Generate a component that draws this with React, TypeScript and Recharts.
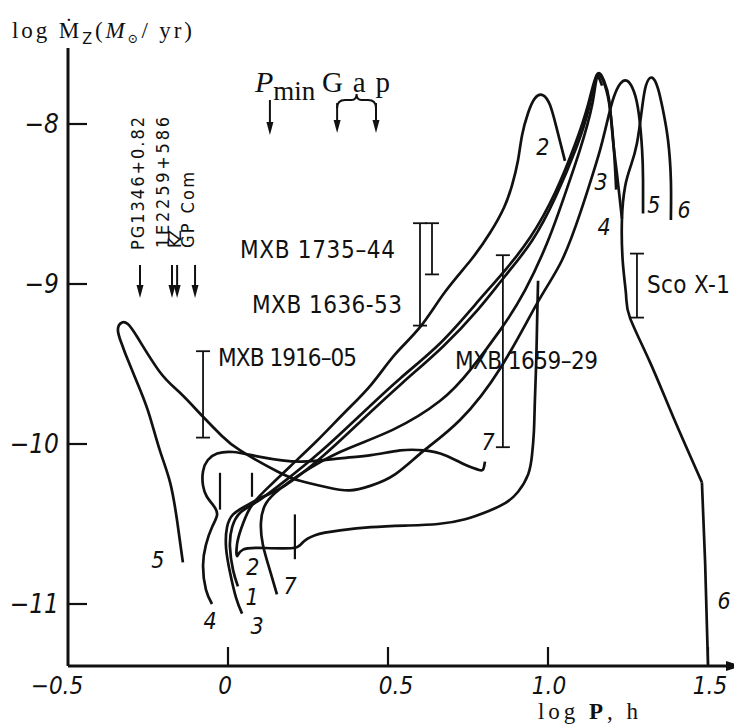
import React from 'react';
import { ComposedChart, Line, XAxis, YAxis, ReferenceLine, ReferenceDot } from 'recharts';

// evolutionary tracks, log P (h) against log Mdot_2 (Msun/yr)
const track1LogP = [0.031, 0.016, 0.006, 0.013, 0.038, 0.091, 0.172, 0.288, 0.413, 0.538, 0.663, 0.772, 0.859, 0.944, 1.022, 1.084, 1.125, 1.153, 1.175, 1.191, 1.203, 1.216, 1.231];
const track1LogM = [-10.89, -10.79, -10.64, -10.52, -10.43, -10.36, -10.24, -10.05, -9.82, -9.59, -9.37, -9.13, -8.93, -8.71, -8.43, -8.13, -7.88, -7.69, -7.73, -7.85, -8.1, -8.32, -8.59];

const track2LogP = [1.053, 1.025, 1.006, 0.984, 0.959, 0.938, 0.919, 0.906, 0.888, 0.863, 0.819, 0.759, 0.678, 0.6, 0.522, 0.447, 0.366, 0.278, 0.194, 0.116, 0.069, 0.041, 0.028, 0.028, 0.047, 0.116, 0.203, 0.231, 0.272, 0.35, 0.447, 0.553, 0.656, 0.741, 0.813, 0.866, 0.906, 0.938, 0.95, 0.956, 0.959, 0.963, 0.966, 0.969];
const track2LogM = [-8.23, -8.01, -7.88, -7.82, -7.84, -7.93, -8.07, -8.23, -8.38, -8.52, -8.68, -8.85, -9.05, -9.27, -9.44, -9.63, -9.8, -9.98, -10.14, -10.29, -10.4, -10.53, -10.63, -10.7, -10.66, -10.65, -10.65, -10.62, -10.57, -10.54, -10.52, -10.51, -10.5, -10.47, -10.42, -10.37, -10.3, -10.19, -10.07, -9.92, -9.73, -9.5, -9.23, -8.98];

const track3LogP = [0.044, 0.025, 0.006, -0.006, -0.003, 0.016, 0.053, 0.109, 0.178, 0.294, 0.419, 0.544, 0.672, 0.781, 0.866, 0.95, 1.025, 1.088, 1.128, 1.153, 1.178, 1.194, 1.206, 1.213];
const track3LogM = [-11.06, -10.96, -10.8, -10.65, -10.52, -10.44, -10.39, -10.33, -10.26, -10.08, -9.85, -9.62, -9.39, -9.16, -8.95, -8.73, -8.45, -8.15, -7.9, -7.7, -7.76, -7.91, -8.16, -8.41];

const track4LogP = [-0.05, -0.069, -0.078, -0.069, -0.05, -0.034, -0.047, -0.066, -0.078, -0.078, -0.063, -0.034, 0.016, 0.1, 0.225, 0.35, 0.447, 0.538, 0.613, 0.678, 0.741, 0.781, 0.797, 0.803];
const track4LogM = [-11.0, -10.91, -10.76, -10.63, -10.52, -10.44, -10.38, -10.33, -10.26, -10.17, -10.1, -10.06, -10.05, -10.08, -10.11, -10.09, -10.07, -10.04, -10.04, -10.07, -10.13, -10.16, -10.16, -10.11];

const track5LogP = [1.297, 1.297, 1.294, 1.284, 1.269, 1.247, 1.225, 1.206, 1.188, 1.163, 1.131, 1.1, 1.044, 0.969, 0.853, 0.725, 0.613, 0.522, 0.447, 0.38, 0.309, 0.225, 0.153, 0.038, -0.019, -0.078, -0.15, -0.213, -0.284, -0.313, -0.331, -0.344, -0.331, -0.316, -0.275, -0.244, -0.213, -0.181, -0.159, -0.141];
const track5LogM = [-8.56, -8.35, -8.16, -7.94, -7.8, -7.73, -7.75, -7.83, -7.96, -8.16, -8.37, -8.56, -8.85, -9.11, -9.52, -9.85, -10.04, -10.19, -10.26, -10.29, -10.27, -10.23, -10.17, -10.04, -9.95, -9.83, -9.68, -9.55, -9.33, -9.25, -9.24, -9.29, -9.38, -9.46, -9.66, -9.83, -10.04, -10.24, -10.48, -10.74];

const track6LogP = [1.384, 1.384, 1.375, 1.359, 1.344, 1.325, 1.306, 1.294, 1.278, 1.259, 1.241, 1.231, 1.234, 1.244, 1.256, 1.319, 1.391, 1.481, 1.491, 1.5];
const track6LogM = [-8.6, -8.35, -8.1, -7.91, -7.78, -7.71, -7.76, -7.9, -8.12, -8.26, -8.39, -8.6, -8.87, -9.07, -9.21, -9.49, -9.83, -10.24, -10.74, -11.38];

const track7LogP = [0.153, 0.131, 0.109, 0.103, 0.119, 0.163, 0.225, 0.35, 0.516, 0.663, 0.756, 0.85, 0.928, 1.0, 1.053, 1.1, 1.138, 1.153, 1.169];
const track7LogM = [-10.94, -10.79, -10.63, -10.49, -10.37, -10.28, -10.19, -10.05, -9.91, -9.73, -9.54, -9.29, -9.04, -8.73, -8.44, -8.16, -7.88, -7.71, -7.76];

// observed systems with a range of log Mdot
const systemNames = ['MXB 1735–44', 'MXB 1636-53', 'MXB 1659–29', 'MXB 1916–05', 'Sco X-1'];
const systemLogP = [0.6375, 0.6, 0.859, -0.078, 1.278];
const systemLow = [-8.94, -9.26, -10.02, -9.96, -9.21];
const systemHigh = [-8.62, -8.62, -8.82, -9.42, -8.81];

// ultra-short period binaries (arrows only)
const ultraNames = ['PG1346+0.82', '1E2259+586', 'KZ', 'GP Com'];
const ultraLogP = [-0.275, -0.175, -0.159, -0.103];

// P_min and period gap
const pminLogP = 0.131;
const gapLogP = [0.341, 0.4625];

// small period marks on the tracks
const markLogP = [-0.025, 0.075, 0.209];
const markTop = [-10.18, -10.18, -10.44];
const markBottom = [-10.41, -10.33, -10.72];

const xTicks = [-0.5, 0, 0.5, 1.0, 1.5];
const xTickText = ['−0.5', '0', '0.5', '1.0', '1.5'];
const yTicks = [-11, -10, -9, -8];
const yTickText = ['−11', '−10', '−9', '−8'];

const zip = (p: number[], m: number[]) => p.map((x, i) => ({ x, y: m[i] }));
const track6 = zip(track6LogP, track6LogM);

const tracks = [
  zip(track1LogP, track1LogM),
  zip(track2LogP, track2LogM),
  zip(track3LogP, track3LogM),
  zip(track4LogP, track4LogM),
  zip(track5LogP, track5LogM),
  zip(track7LogP, track7LogM),
  track6.slice(0, 18),
];

const Y_DOMAIN: [number, number] = [-11.3875, -7.525];
const INK = '#111';
const NARROW = "'Liberation Sans Narrow', 'DejaVu Sans Condensed', 'Liberation Sans', sans-serif";
const SERIF = "'Liberation Serif', 'DejaVu Serif', serif";

// label layout (data coordinates of anchors)
const trackLabels = [
  { t: '5', x: -0.219, y: -10.725 },
  { t: '4', x: -0.056, y: -11.106 },
  { t: '3', x: 0.091, y: -11.138 },
  { t: '1', x: 0.075, y: -10.956 },
  { t: '2', x: 0.078, y: -10.769 },
  { t: '7', x: 0.194, y: -10.888 },
  { t: '2', x: 0.984, y: -8.144 },
  { t: '3', x: 1.166, y: -8.363 },
  { t: '4', x: 1.175, y: -8.644 },
  { t: '5', x: 1.331, y: -8.506 },
  { t: '6', x: 1.425, y: -8.538 },
  { t: '7', x: 0.8125, y: -9.988 },
  { t: '6', x: 1.55, y: -10.981 },
];
const systemLabelAt = [
  { x: 0.0375, y: -8.8375, w: 155 },
  { x: 0.075, y: -9.181, w: 150 },
  { x: 0.709, y: -9.531, w: 143 },
  { x: -0.031, y: -9.5125, w: 139 },
  { x: 1.309, y: -9.056, w: 83 },
];
const ultraLabelAt = [
  { x: -0.2625, y: -8.7875, w: 133 },
  { x: -0.184, y: -8.775, w: 131 },
  { x: -0.147, y: -8.775, w: 18 },
  { x: -0.106, y: -8.775, w: 76 },
];

const center = (vb: any) => ({ cx: vb.x + vb.width / 2, cy: vb.y + vb.height / 2 });

const XTick = (props: any) => {
  const { x, y, payload } = props;
  const i = xTicks.indexOf(payload.value);
  const dx = [-11, -3, 8, 1, 2][i] ?? 0;
  return (
    <g>
      {payload.value > -0.5 && <line x1={x} x2={x} y1={y} y2={y - 19} stroke={INK} strokeWidth={2.2} />}
      <text x={x + dx} y={y + 28} textAnchor="middle" fontFamily={NARROW} fontStyle="italic" fontSize={24} fill={INK}>
        {xTickText[i]}
      </text>
    </g>
  );
};

const YTick = (props: any) => {
  const { x, y, payload } = props;
  const i = yTicks.indexOf(payload.value);
  return (
    <g>
      <line x1={x} x2={x + 19} y1={y} y2={y} stroke={INK} strokeWidth={2.2} />
      <text x={x - 9} y={y} textAnchor="end" dominantBaseline="central" fontFamily={NARROW} fontStyle="italic" fontSize={26} fill={INK}>
        {yTickText[i]}
      </text>
    </g>
  );
};

const YTitle = (props: any) => {
  const vb = props.viewBox;
  return (
    <text x={vb.x + 4} y={vb.y - 10} fontFamily={SERIF} fontSize={23} fill={INK} textLength={180} lengthAdjust="spacing">
      log Ṁ
      <tspan dy={6} fontSize={16} fontFamily={NARROW}>Z</tspan>
      <tspan dy={-6}>(</tspan>
      <tspan fontStyle="italic">M</tspan>
      <tspan dy={5} fontSize={13}>⊙</tspan>
      <tspan dy={-5}>/ yr)</tspan>
    </text>
  );
};

const XTitle = (props: any) => {
  const vb = props.viewBox;
  return (
    <text x={vb.x + 470} y={vb.y + 53} fontFamily={SERIF} fontSize={23} fill={INK} textLength={100} lengthAdjust="spacing">
      log <tspan fontWeight="bold">P</tspan>, h
    </text>
  );
};

const ErrorBarShape = (props: any) => {
  const { x1, y1, x2, y2 } = props;
  return (
    <g stroke={INK} strokeWidth={1.8}>
      <line x1={x1} y1={y1} x2={x2} y2={y2} />
      <line x1={x1 - 7} x2={x1 + 7} y1={y1} y2={y1} />
      <line x1={x2 - 7} x2={x2 + 7} y1={y2} y2={y2} />
    </g>
  );
};

const ArrowShape = (props: any) => {
  const { x1, y1, x2, y2 } = props;
  return (
    <g>
      <line x1={x1} y1={y1} x2={x2} y2={y2 - 8} stroke={INK} strokeWidth={2} />
      <path d={`M${x2 - 3.5},${y2 - 13} L${x2 + 3.5},${y2 - 13} L${x2},${y2} Z`} fill={INK} />
    </g>
  );
};

const BraceShape = (props: any) => {
  const { x1, y1, x2 } = props;
  const m = (x1 + x2) / 2;
  const d = `M${x1},${y1 + 5} Q${x1},${y1 - 3} ${x1 + 8},${y1 - 3} L${m - 5},${y1 - 3} Q${m},${y1 - 3} ${m},${y1 - 9} Q${m},${y1 - 3} ${m + 5},${y1 - 3} L${x2 - 8},${y1 - 3} Q${x2},${y1 - 3} ${x2},${y1 + 5}`;
  return <path d={d} fill="none" stroke={INK} strokeWidth={2} />;
};

const AxisArrow = (props: any) => {
  const { x2, y2 } = props;
  return <path d={`M${x2 - 14},${y2 - 5} L${x2 + 2},${y2} L${x2 - 14},${y2 + 5} Z`} fill={INK} />;
};

const noDot = () => <g />;

export default function App() {
  return (
    <ComposedChart width={734} height={720} margin={{ top: 40, right: 2, bottom: 0, left: 0 }}>
      <XAxis
        type="number"
        dataKey="x"
        domain={[-0.5, 1.6]}
        ticks={xTicks}
        interval={0}
        allowDataOverflow
        height={62}
        tickSize={0}
        tickMargin={0}
        tickLine={false}
        tick={XTick}
        axisLine={{ stroke: INK, strokeWidth: 3 }}
        label={XTitle}
      />
      <YAxis
        type="number"
        domain={Y_DOMAIN}
        ticks={yTicks}
        interval={0}
        allowDataOverflow
        width={60}
        tickSize={0}
        tickMargin={0}
        tickLine={false}
        tick={YTick}
        axisLine={{ stroke: INK, strokeWidth: 3 }}
        label={YTitle}
      />

      {tracks.map((d, i) => (
        <Line key={i} data={d} dataKey="y" type="natural" stroke={INK} strokeWidth={2.7} dot={false} isAnimationActive={false} />
      ))}
      <Line data={track6.slice(17)} dataKey="y" type="linear" stroke={INK} strokeWidth={2.7} dot={false} isAnimationActive={false} />

      {systemLogP.map((p, i) => (
        <ReferenceLine key={'sys' + i} segment={[{ x: p, y: systemHigh[i] }, { x: p, y: systemLow[i] }]} shape={ErrorBarShape} ifOverflow="visible" />
      ))}
      {markLogP.map((p, i) => (
        <ReferenceLine key={'mk' + i} segment={[{ x: p, y: markTop[i] }, { x: p, y: markBottom[i] }]} stroke={INK} strokeWidth={2.2} ifOverflow="visible" />
      ))}
      {ultraLogP.map((p, i) => (
        <ReferenceLine key={'ua' + i} segment={[{ x: p, y: -8.881 }, { x: p, y: -9.088 }]} shape={ArrowShape} ifOverflow="visible" />
      ))}
      <ReferenceLine segment={[{ x: pminLogP, y: -7.85 }, { x: pminLogP, y: -8.069 }]} shape={ArrowShape} ifOverflow="visible" />
      {gapLogP.map((p, i) => (
        <ReferenceLine key={'gap' + i} segment={[{ x: p, y: -7.869 }, { x: p, y: -8.056 }]} shape={ArrowShape} ifOverflow="visible" />
      ))}
      <ReferenceLine segment={[{ x: gapLogP[0], y: -7.869 }, { x: gapLogP[1], y: -7.869 }]} shape={BraceShape} ifOverflow="visible" />
      <ReferenceLine segment={[{ x: 1.55, y: Y_DOMAIN[0] }, { x: 1.6, y: Y_DOMAIN[0] }]} shape={AxisArrow} ifOverflow="visible" />

      {trackLabels.map((l, i) => (
        <ReferenceDot
          key={'tl' + i}
          x={l.x}
          y={l.y}
          r={0}
          shape={noDot}
          ifOverflow="visible"
          label={(p: any) => {
            const { cx, cy } = center(p.viewBox);
            return (
              <text x={cx} y={cy} textAnchor="middle" dominantBaseline="central" fontFamily={NARROW} fontStyle="italic" fontSize={23} fill={INK}>
                {l.t}
              </text>
            );
          }}
        />
      ))}
      {systemNames.map((name, i) => (
        <ReferenceDot
          key={'sl' + i}
          x={systemLabelAt[i].x}
          y={systemLabelAt[i].y}
          r={0}
          shape={noDot}
          ifOverflow="visible"
          label={(p: any) => {
            const { cx, cy } = center(p.viewBox);
            return (
              <text x={cx} y={cy} fontFamily={NARROW} fontSize={24} fill={INK} textLength={systemLabelAt[i].w} lengthAdjust="spacing">
                {name}
              </text>
            );
          }}
        />
      ))}
      {ultraNames.map((name, i) => (
        <ReferenceDot
          key={'ul' + i}
          x={ultraLabelAt[i].x}
          y={ultraLabelAt[i].y}
          r={0}
          shape={noDot}
          ifOverflow="visible"
          label={(p: any) => {
            const { cx, cy } = center(p.viewBox);
            return (
              <text x={cx} y={cy} transform={`rotate(-90 ${cx} ${cy})`} fontFamily={NARROW} fontSize={18} fill={INK} textLength={ultraLabelAt[i].w} lengthAdjust="spacing">
                {name}
              </text>
            );
          }}
        />
      ))}
      <ReferenceDot
        x={0.084}
        y={-7.8}
        r={0}
        shape={noDot}
        ifOverflow="visible"
        label={(p: any) => {
          const { cx, cy } = center(p.viewBox);
          return (
            <text x={cx} y={cy} fontFamily={SERIF} fontSize={30} fill={INK}>
              <tspan fontStyle="italic">P</tspan>
              <tspan dy={8} fontSize={27}>min</tspan>
            </text>
          );
        }}
      />
      <ReferenceDot
        x={0.294}
        y={-7.8}
        r={0}
        shape={noDot}
        ifOverflow="visible"
        label={(p: any) => {
          const { cx, cy } = center(p.viewBox);
          return (
            <text x={cx} y={cy} fontFamily={SERIF} fontSize={29} fill={INK} textLength={68} lengthAdjust="spacing">
              Gap
            </text>
          );
        }}
      />
    </ComposedChart>
  );
}
